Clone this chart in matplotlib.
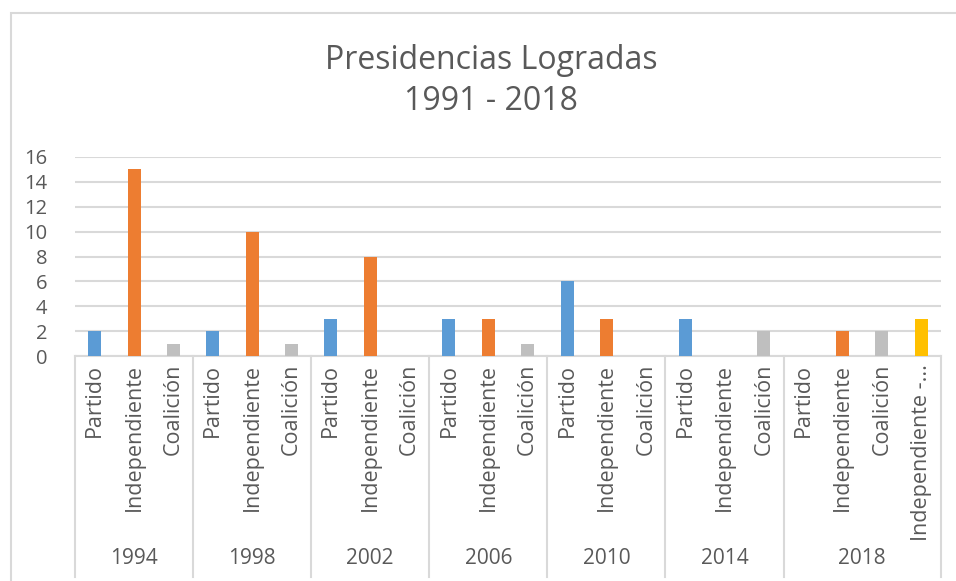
import matplotlib
matplotlib.use("Agg")
import matplotlib.pyplot as plt
from matplotlib.transforms import blended_transform_factory
from matplotlib.lines import Line2D
from matplotlib.patches import Rectangle
from matplotlib import font_manager

plt.rcParams['font.family'] = ['Open Sans', 'DejaVu Sans']
names = {f.name for f in font_manager.fontManager.ttflist}
narrow = ['Liberation Sans Narrow', 'Open Sans'] if 'Liberation Sans Narrow' in names else ['Open Sans']

years = ["1994", "1998", "2002", "2006", "2010", "2014", "2018"]
group_cats = [
    ["Partido", "Independiente", "Coalición"],
    ["Partido", "Independiente", "Coalición"],
    ["Partido", "Independiente", "Coalición"],
    ["Partido", "Independiente", "Coalición"],
    ["Partido", "Independiente", "Coalición"],
    ["Partido", "Independiente", "Coalición"],
    ["Partido", "Independiente", "Coalición", "Independiente -..."],
]
group_values = [
    [2, 15, 1],
    [2, 10, 1],
    [3, 8, 0],
    [3, 3, 1],
    [6, 3, 0],
    [3, 0, 2],
    [0, 2, 2, 3],
]
cat_colors = {
    "Partido": "#5B9BD5",
    "Independiente": "#ED7D31",
    "Coalición": "#BFBFBF",
    "Independiente -...": "#FFC000",
}
yticks = [0, 2, 4, 6, 8, 10, 12, 14, 16]
title = "Presidencias Logradas\n1991 - 2018"

W, H = 956, 581
fig = plt.figure(figsize=(W / 100, H / 100), dpi=100)
fig.patch.set_facecolor("white")

# chart border
fig.add_artist(Rectangle((11 / W, -0.01), 1.1, 1 - 13 / H + 0.01, transform=fig.transFigure,
                         fill=False, edgecolor="#D9D9D9", lw=1.5))

left, right = 75 / W, 941 / W
bottom, top = 1 - 356 / H, 1 - 157 / H
ax = fig.add_axes([left, bottom, right - left, top - bottom])

labels, values, colors = [], [], []
for cats, vals in zip(group_cats, group_values):
    for c, v in zip(cats, vals):
        labels.append(c)
        values.append(v)
        colors.append(cat_colors[c])
n = len(labels)
xs = list(range(n))
ax.bar(xs, values, width=0.33, color=colors, zorder=3)
ax.set_xlim(-0.5, n - 0.5)
ax.set_ylim(0, 16)
ax.set_yticks(yticks)
ax.set_yticklabels([str(t) for t in yticks], fontsize=14.5, color="#595959")
ax.tick_params(axis="y", length=0, pad=20)
ax.tick_params(axis="x", length=0)
ax.set_xticks([])
ax.yaxis.grid(True, color="#D9D9D9", lw=1.5, zorder=0)
for s in ["top", "right", "left"]:
    ax.spines[s].set_visible(False)
ax.spines["bottom"].set_color("#D9D9D9")
ax.spines["bottom"].set_linewidth(1.5)

trans = blended_transform_factory(ax.transData, fig.transFigure)
pos = 0
bounds = [-0.5]
for yr, cats in zip(years, group_cats):
    for i, c in enumerate(cats):
        ax.text(pos + i, 1 - 364 / H, c, transform=trans, rotation=90,
                ha="center", va="top", fontsize=15.5, color="#595959")
    ax.text(pos + (len(cats) - 1) / 2, 1 - 558 / H, yr, transform=trans,
            ha="center", va="center", fontsize=15, color="#595959", family=narrow)
    pos += len(cats)
    bounds.append(pos - 0.5)
for b in bounds:
    fig.add_artist(Line2D([b, b], [1 - 356 / H, 1 - 577 / H], transform=trans,
                          color="#D9D9D9", lw=1.5))

fig.text(491 / W, 1 - 81 / H, title, ha="center", va="center", fontsize=23,
         color="#595959", linespacing=1.33)

fig.savefig("out.png", dpi=100)
